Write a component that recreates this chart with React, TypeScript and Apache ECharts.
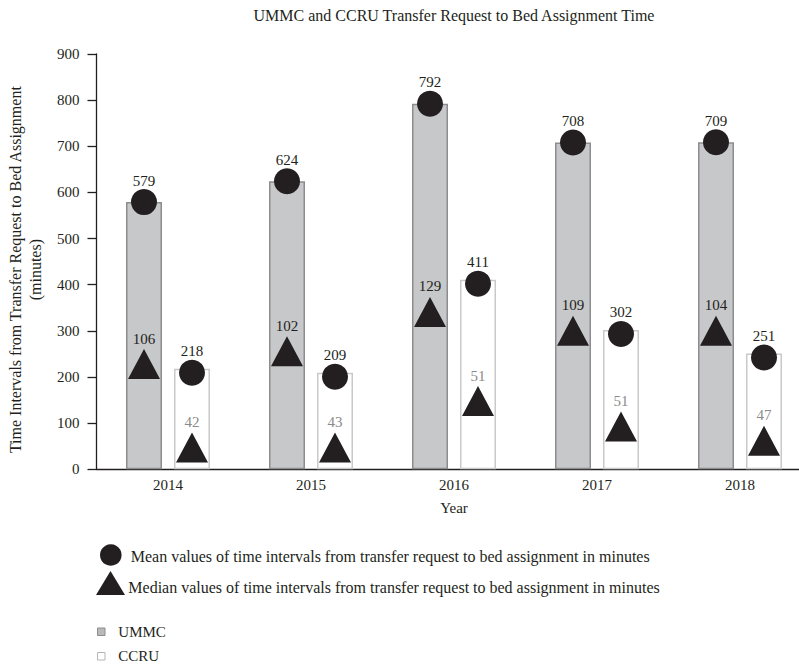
import React, { useEffect, useRef } from "react";
import * as echarts from "echarts";

const years = ["2014", "2015", "2016", "2017", "2018"];
const meanUMMC = [579, 624, 792, 708, 709];
const meanCCRU = [218, 209, 411, 302, 251];
const medianUMMC = [106, 102, 129, 109, 104];
const medianCCRU = [42, 43, 51, 51, 47];
// vertical position (in axis units) where each median triangle is drawn in the figure
const medianMarkUMMC = [228, 256, 341, 300, 300];
const medianMarkCCRU = [47, 47, 148, 93, 62];
const yTicks = [0, 100, 200, 300, 400, 500, 600, 700, 800, 900];

const FONT = "'Liberation Serif', 'DejaVu Serif', serif";
const DARK = "#231f20";
const GRAY_TXT = "#8a8a8a";

export default function App() {
  const ref = useRef<HTMLDivElement>(null);
  useEffect(() => {
    if (!ref.current) return;
    const chart = echarts.init(ref.current, null, { renderer: "svg" });
    const option: any = {
      animation: false,
      backgroundColor: "#ffffff",
      textStyle: { fontFamily: FONT },
      grid: {
        left: 96.5,
        top: 54,
        width: 715,
        height: 415.3,
        containLabel: false,
        outerBoundsMode: "none",
      },
      xAxis: {
        type: "category",
        data: years,
        boundaryGap: true,
        axisLine: { show: true, lineStyle: { color: DARK, width: 1.3 } },
        axisTick: { show: false },
        axisLabel: { color: DARK, fontSize: 15, fontFamily: FONT, margin: 8 },
        name: "Year",
        nameLocation: "middle",
        nameGap: 31,
        nameTextStyle: { color: DARK, fontSize: 15, fontFamily: FONT },
      },
      yAxis: {
        type: "value",
        min: yTicks[0],
        max: yTicks[yTicks.length - 1],
        interval: 100,
        splitLine: { show: false },
        axisLine: { show: true, lineStyle: { color: DARK, width: 1.3 } },
        axisTick: { show: true, length: 9, lineStyle: { color: DARK, width: 1.3 } },
        axisLabel: { color: DARK, fontSize: 15, fontFamily: FONT, margin: 17 },
        name: "Time Intervals from Transfer Request to Bed Assignment\n(minutes)",
        nameLocation: "middle",
        nameRotate: 90,
        nameGap: 48,
        nameTextStyle: {
          color: DARK,
          fontSize: 16,
          fontFamily: FONT,
          lineHeight: 20.4,
          padding: [0, 16, 0, 0],
        },
      },
      series: [
        {
          name: "UMMC",
          type: "bar",
          data: meanUMMC,
          barWidth: 36,
          barGap: "33.3%",
          itemStyle: { color: "#c7c8ca", borderColor: "#8d8d8f", borderWidth: 1.5 },
          z: 1,
        },
        {
          name: "CCRU",
          type: "bar",
          data: meanCCRU,
          barWidth: 36,
          barGap: "33.3%",
          itemStyle: { color: "#ffffff", borderColor: "#c9c9c9", borderWidth: 1.5 },
          z: 1,
        },
        {
          name: "Mean UMMC",
          type: "scatter",
          data: meanUMMC,
          symbol: "circle",
          symbolSize: 26,
          symbolOffset: [-24, 0],
          itemStyle: { color: DARK, opacity: 1 },
          label: {
            show: true,
            position: "top",
            distance: 1,
            color: DARK,
            fontSize: 15,
            fontFamily: FONT,
          },
          z: 5,
        },
        {
          name: "Mean CCRU",
          type: "scatter",
          data: meanCCRU,
          symbol: "circle",
          symbolSize: 26,
          symbolOffset: [24, 4],
          itemStyle: { color: DARK, opacity: 1 },
          label: {
            show: true,
            position: "top",
            distance: 1,
            color: DARK,
            fontSize: 15,
            fontFamily: FONT,
          },
          z: 5,
        },
        {
          name: "Median UMMC",
          type: "scatter",
          data: medianMarkUMMC,
          symbol: "triangle",
          symbolSize: [32, 30],
          symbolOffset: [-24, 0],
          itemStyle: { color: DARK, opacity: 1 },
          label: {
            show: true,
            position: "top",
            distance: 3,
            color: DARK,
            fontSize: 15,
            fontFamily: FONT,
            formatter: (p: any) => String(medianUMMC[p.dataIndex]),
          },
          z: 5,
        },
        {
          name: "Median CCRU",
          type: "scatter",
          data: medianMarkCCRU,
          symbol: "triangle",
          symbolSize: [32, 30],
          symbolOffset: [24, 0],
          itemStyle: { color: DARK, opacity: 1 },
          label: {
            show: true,
            position: "top",
            distance: 3,
            color: GRAY_TXT,
            fontSize: 15,
            fontFamily: FONT,
            formatter: (p: any) => String(medianCCRU[p.dataIndex]),
          },
          z: 5,
        },
      ],
      graphic: [
        {
          type: "text",
          x: 454,
          y: 15,
          style: {
            text: "UMMC and CCRU Transfer Request to Bed Assignment Time",
            fill: DARK,
            font: `16px ${FONT}`,
            textAlign: "center",
            textVerticalAlign: "middle",
          },
        },
        { type: "circle", shape: { cx: 110.8, cy: 555, r: 10.8 }, style: { fill: DARK } },
        {
          type: "text",
          x: 130.7,
          y: 556.5,
          style: {
            text: "Mean values of time intervals from transfer request to bed assignment in minutes",
            fill: DARK,
            font: `16px ${FONT}`,
            textAlign: "left",
            textVerticalAlign: "middle",
          },
        },
        {
          type: "polygon",
          shape: { points: [[110.5, 571], [125, 595], [96, 595]] },
          style: { fill: DARK },
        },
        {
          type: "text",
          x: 128.3,
          y: 587.5,
          style: {
            text: "Median values of time intervals from transfer request to bed assignment in minutes",
            fill: DARK,
            font: `16px ${FONT}`,
            textAlign: "left",
            textVerticalAlign: "middle",
          },
        },
        {
          type: "rect",
          shape: { x: 97.5, y: 628, width: 7.5, height: 7.5 },
          style: { fill: "#b8b9bb", stroke: "#8d8d8f", lineWidth: 1 },
        },
        {
          type: "text",
          x: 118.3,
          y: 631.7,
          style: { text: "UMMC", fill: DARK, font: `15px ${FONT}`, textAlign: "left", textVerticalAlign: "middle" },
        },
        {
          type: "rect",
          shape: { x: 97.5, y: 652.5, width: 7.5, height: 7.5 },
          style: { fill: "#ffffff", stroke: "#b5b5b5", lineWidth: 1 },
        },
        {
          type: "text",
          x: 118.3,
          y: 656,
          style: { text: "CCRU", fill: DARK, font: `15px ${FONT}`, textAlign: "left", textVerticalAlign: "middle" },
        },
      ],
    };
    chart.setOption(option);
    return () => chart.dispose();
  }, []);
  return (
    <div
      ref={ref}
      style={{ position: "fixed", left: 0, top: 0, width: 799, height: 665, background: "#fff" }}
    />
  );
}
